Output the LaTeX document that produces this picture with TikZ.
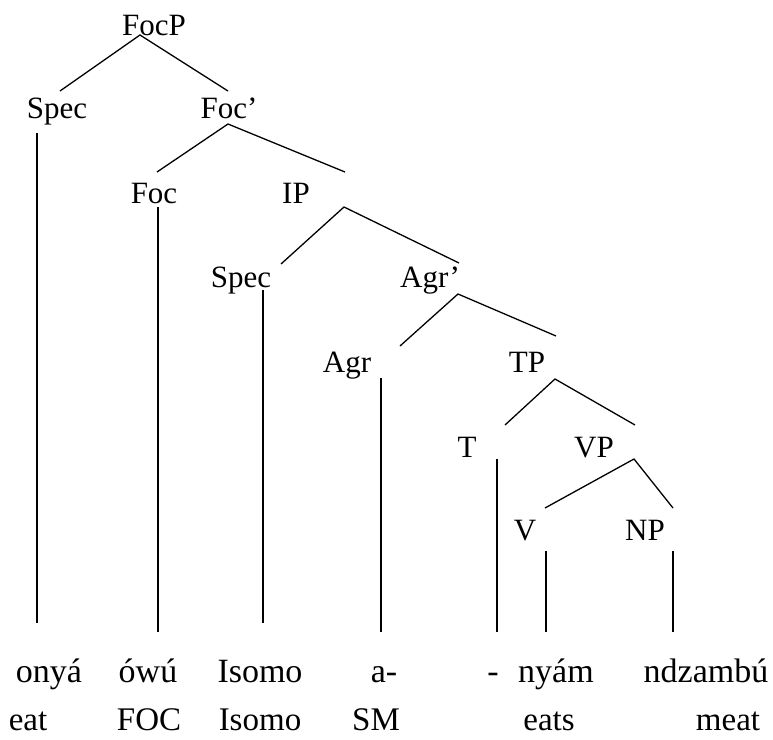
\documentclass[tikz,border=0pt]{standalone}
\usepackage{fontspec}
\setmainfont{Liberation Serif}

\begin{document}
\begin{tikzpicture}[x=0.5pt, y=-0.5pt,
		branch/.style={line width=0.65pt},
		cat/.style={anchor=base, inner sep=0pt, font=\fontsize{15.5}{18}\selectfont},
		word/.style={anchor=base, inner sep=0pt, font=\fontsize{17}{20}\selectfont},
		gloss/.style={anchor=base, inner sep=0pt, font=\fontsize{16.5}{20}\selectfont}]

		\useasboundingbox (0,0) rectangle (773,740);

		% === row baselines ===
		\def\wordrow{682}	\def\glossrow{730}

		% === category labels ===
		\node[cat] (focp)   at (154,35)  {FocP};
		\node[cat] (spec1)  at (57,118)  {Spec};
		\node[cat] (focbar) at (229,118) {Foc’};
		\node[cat] (foc)    at (154,203) {Foc};
		\node[cat] (ip)     at (296,203) {IP};
		\node[cat] (spec2)  at (241,287) {Spec};
		\node[cat] (agrbar) at (430,287) {Agr’};
		\node[cat] (agr)    at (347,372) {Agr};
		\node[cat] (tp)     at (527,372) {TP};
		\node[cat] (t)      at (467,457) {T};
		\node[cat] (vp)     at (594,457) {VP};
		\node[cat] (v)      at (525,540) {V};
		\node[cat] (np)     at (645,540) {NP};

		% === branch end points ===
		\coordinate (focp-a)   at (140,35);
		\coordinate (spec1-t)  at (60,91);	\coordinate (focbar-t) at (228,91);
		\coordinate (focbar-a) at (228,124);
		\coordinate (foc-t)    at (157,172);	\coordinate (ip-t)     at (345,172);
		\coordinate (ip-a)     at (344,207);
		\coordinate (spec2-t)  at (281,264);	\coordinate (agrbar-t) at (459,263);
		\coordinate (agrbar-a) at (458,294);
		\coordinate (agr-t)    at (400,346);	\coordinate (tp-t)     at (556,336);
		\coordinate (tp-a)     at (555,379);
		\coordinate (t-t)      at (505,425);	\coordinate (vp-t)     at (635,425);
		\coordinate (vp-a)     at (634,459);
		\coordinate (v-t)      at (545,508);	\coordinate (np-t)     at (673,508);

		% === branches ===
		\draw[branch] (spec1-t) -- (focp-a) -- (focbar-t);
		\draw[branch] (foc-t) -- (focbar-a) -- (ip-t);
		\draw[branch] (spec2-t) -- (ip-a) -- (agrbar-t);
		\draw[branch] (agr-t) -- (agrbar-a) -- (tp-t);
		\draw[branch] (t-t) -- (tp-a) -- (vp-t);
		\draw[branch] (v-t) -- (vp-a) -- (np-t);

		% === lines down to the words ===
		\foreach \n/\x/\ytop/\ybot in {spec1/37/133/623, foc/158/207/632, spec2/263/290/623,
				agr/381/378/632, t/497/459/632, v/546/551/632, np/673/551/632} {
			\coordinate (\n-top) at (\x,\ytop);
			\coordinate (\n-bot) at (\x,\ybot);
			\draw[branch] (\n-top) -- (\n-bot);
		}

		% === words and glosses ===
		\node[word] (w1) at (49,\wordrow)  {onyá};
		\node[word] (w2) at (148,\wordrow) {ówú};
		\node[word] (w3) at (260,\wordrow) {Isomo};
		\node[word] (w4) at (384,\wordrow) {a-};
		\node[word] (w5) at (493,\wordrow) {-};
		\node[word] (w6) at (556,\wordrow) {nyám};
		\node[word] (w7) at (706,\wordrow) {ndzambú};

		\node[gloss] (g1) at (28,\glossrow)  {eat};
		\node[gloss] (g2) at (149,\glossrow) {FOC};
		\node[gloss] (g3) at (260,\glossrow) {Isomo};
		\node[gloss] (g4) at (376,\glossrow) {SM};
		\node[gloss] (g6) at (549,\glossrow) {eats};
		\node[gloss] (g7) at (728,\glossrow) {meat};
	\end{tikzpicture}
\end{document}
